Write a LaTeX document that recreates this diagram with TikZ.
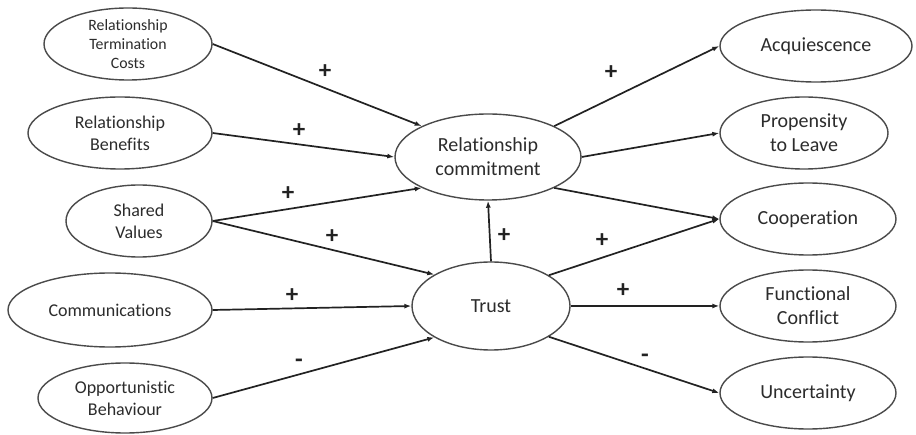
\documentclass[tikz,border=0pt]{standalone}
\usepackage{fontspec}
\setmainfont{Carlito}[Ligatures=NoCommon]
\usetikzlibrary{arrows.meta,shapes.geometric}
\definecolor{ink}{HTML}{222222}
\definecolor{rim}{HTML}{4A4A4A}
\definecolor{txt}{HTML}{2C2C2C}
\begin{document}
\begin{tikzpicture}[x=1pt,y=-1pt,
  oval/.style={ellipse, draw=rim, line width=1.4pt, inner sep=0pt, align=center, text=txt},
  bigtext/.style={font=\fontsize{20}{24}\selectfont},
  midtext/.style={font=\fontsize{18}{22}\selectfont},
  smalltext/.style={font=\fontsize{15.8}{19}\selectfont},
  link/.style={draw=ink, line width=1.7pt, -{Latex[length=7pt,width=5pt]}},
  sign/.style={text=ink, inner sep=0pt, font=\fontsize{25}{25}\selectfont\bfseries}
]
\useasboundingbox[fill=white] (0,0) rectangle (916,435);

% antecedents
\node[oval, smalltext, minimum width=168pt, minimum height=72pt] (rtc) at (128,44)
  {Relationship\\Termination\\Costs};
\node[oval, midtext, minimum width=184pt, minimum height=72pt] (rb) at (120,133)
  {Relationship\\Benefits};
\node[oval, midtext, minimum width=146pt, minimum height=72pt] (sv) at (139,221)
  {Shared\\Values};
\node[oval, midtext, minimum width=204pt, minimum height=74pt] (com) at (110,310)
  {Communications};
\node[oval, midtext, minimum width=174pt, minimum height=70pt] (ob) at (125,398)
  {Opportunistic\\Behaviour};

% mediators
\node[oval, bigtext, minimum width=186pt, minimum height=86pt] (rc) at (488,157)
  {Relationship\\commitment};
\node[oval, bigtext, minimum width=158pt, minimum height=88pt] (trust) at (491,306)
  {Trust};

% outcomes
\node[oval, bigtext, minimum width=192pt, minimum height=72pt] (acq) at (816,46)
  {Acquiescence};
\node[oval, bigtext, minimum width=168pt, minimum height=72pt] (ptl) at (804,133)
  {Propensity\\to Leave};
\node[oval, bigtext, minimum width=176pt, minimum height=72pt] (coop) at (808,219)
  {Cooperation};
\node[oval, bigtext, minimum width=176pt, minimum height=72pt] (fc) at (808,306)
  {Functional\\Conflict};
\node[oval, bigtext, minimum width=176pt, minimum height=72pt] (unc) at (808,393)
  {Uncertainty};

% paths into relationship commitment
\draw[link] (rtc.east) -- (rc.155);
\draw[link] (rb.east) -- (rc.west);
\draw[link] (sv.east) -- (rc.205);
\draw[link] (trust.north) -- (rc.south);

% paths into trust
\draw[link] (sv.east) -- (trust.151);
\draw[link] (com.east) -- (trust.west);
\draw[link] (ob.east) -- (trust.209);

% consequences
\draw[link] (rc.25) -- (acq.west);
\draw[link] (rc.east) -- (ptl.west);
\draw[link] (rc.-25) -- (coop.west);
\draw[link] (trust.28) -- (coop.west);
\draw[link] (trust.east) -- (fc.west);
\draw[link] (trust.-28) -- (unc.west);

% signs
\node[sign] (s1) at (325,72) {+};
\node[sign] (s2) at (299,131) {+};
\node[sign] (s3) at (288,194) {+};
\node[sign] (s4) at (332,237) {+};
\node[sign] (s5) at (292,296) {+};
\node[sign] (s6) at (299,363) {-};
\node[sign] (s7) at (504,236) {+};
\node[sign] (s8) at (611,73) {+};
\node[sign] (s9) at (602,241) {+};
\node[sign] (s10) at (623,291) {+};
\node[sign] (s11) at (645,358) {-};
\end{tikzpicture}
\end{document}
